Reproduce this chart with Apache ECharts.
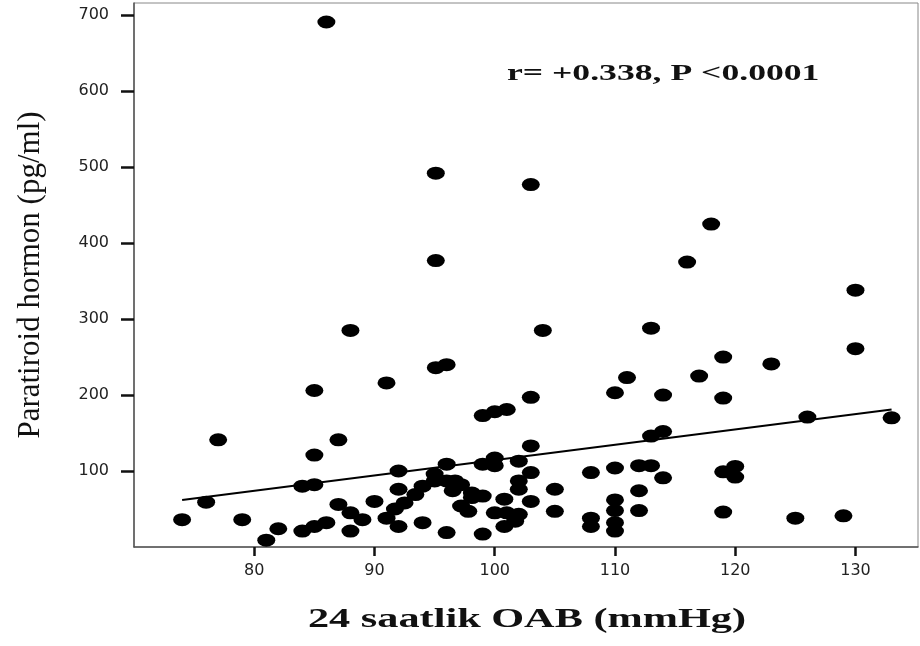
<!DOCTYPE html>
<html>
<head>
<meta charset="utf-8">
<script src="https://cdn.jsdelivr.net/npm/echarts@6/dist/echarts.min.js"></script>
<style>
html, body { margin: 0; padding: 0; background: #fff; }
#chart { width: 920px; height: 646px; }
</style>
</head>
<body>
<div id="chart"></div>
<script>
// 24 saatlik OAB (mmHg) vs paratiroid hormon (pg/ml)
var oab = [74, 76, 77, 79, 81, 82, 84, 84, 85, 85, 85, 85, 86, 86, 87, 87, 88, 88, 88, 89,
	90, 91, 91, 92, 92, 92, 91.7, 92.5, 93.4, 94, 94, 95, 95, 95.1, 96, 95.1, 95.1, 96, 96, 96.7,
	97.2, 96.5, 97.2, 96, 98.1, 98.1, 97.8, 99, 99, 99, 99, 100, 101, 100, 100, 102, 103, 102, 102, 100.8,
	103, 100, 101, 102, 100.8, 101.7, 103, 103, 103, 104, 105, 105, 108, 108, 108, 110, 110, 110, 110, 110,
	110, 111, 112, 113, 112, 112, 113, 114, 114, 114, 113, 116, 117, 118, 119, 119, 119, 120, 120, 119,
	123, 125, 126, 129, 130, 130, 133];
var pth = [36, 59, 141, 36, 9, 24, 21, 80, 82, 27, 121, 206, 32, 691, 141, 56, 45, 21, 285, 36,
	60, 216, 38, 100, 76, 27, 50, 58, 69, 80, 32, 96, 87, 236, 240, 377, 492, 109, 87, 87,
	82, 74, 54, 19, 65, 71, 47, 67, 109, 17, 173, 178, 181, 117, 107, 113, 98, 87, 76, 63,
	60, 45, 45, 43, 27, 34, 133, 197, 477, 285, 76, 47, 98, 38, 27, 104, 203, 62, 48, 32,
	21, 223, 107, 107, 74, 48, 146, 152, 91, 200, 288, 375, 225, 425, 250, 196, 99, 106, 92, 46,
	241, 38, 171, 41, 261, 338, 170];
// regression line end points
var fitX = [74, 133];
var fitY = [62, 181];
var xTicks = [80, 90, 100, 110, 120, 130];
var yTicks = [100, 200, 300, 400, 500, 600, 700];

scatterChart("chart");

function scatterChart(id) {
	var chart = echarts.init(document.getElementById(id));
	var points = oab.map(function (x, i) { return [x, pth[i]]; });
	var fit = fitX.map(function (x, i) { return [x, fitY[i]]; });
	var option = {
		animation: false,
		backgroundColor: '#fff',
		grid: {
			left: 134,
			right: 2,
			top: 3,
			bottom: 99,
			show: true,
			borderColor: '#888',
			borderWidth: 1
		},
		xAxis: {
			type: 'value',
			min: 70,
			max: 135.2,
			splitLine: { show: false },
			axisLine: { lineStyle: { color: '#555', width: 1.5 } },
			axisTick: { customValues: xTicks, length: 9, lineStyle: { color: '#111', width: 2.5 } },
			axisLabel: {
				customValues: xTicks,
				margin: 16,
				color: '#222',
				fontFamily: 'DejaVu Sans',
				fontSize: 16
			}
		},
		yAxis: {
			type: 'value',
			min: 0,
			max: 716,
			splitLine: { show: false },
			axisLine: { lineStyle: { color: '#555', width: 1.5 } },
			axisTick: { customValues: yTicks, length: 13, lineStyle: { color: '#111', width: 2.5 } },
			axisLabel: {
				customValues: yTicks,
				margin: 25,
				color: '#222',
				fontFamily: 'DejaVu Sans',
				fontSize: 16
			},
			name: 'Paratiroid hormon (pg/ml)',
			nameLocation: 'middle',
			nameGap: 88,
			nameTextStyle: {
				fontFamily: 'Liberation Serif',
				fontSize: 31,
				color: '#111'
			}
		},
		// the source picture is stretched sideways, so the titles are widened too
		graphic: [{
			type: 'text',
			x: 527,
			y: 620,
			scaleX: 1.51,
			style: {
				text: '24 saatlik OAB (mmHg)',
				textAlign: 'center',
				textVerticalAlign: 'middle',
				fontFamily: 'Liberation Serif',
				fontWeight: 'bold',
				fontSize: 28,
				fill: '#111'
			}
		}, {
			type: 'text',
			x: 507,
			y: 74,
			scaleX: 1.55,
			style: {
				text: 'r= +0.338, P <0.0001',
				textAlign: 'left',
				textVerticalAlign: 'middle',
				fontFamily: 'Liberation Serif',
				fontWeight: 'bold',
				fontSize: 23,
				fill: '#111'
			}
		}],
		series: [{
			name: 'hasta',
			type: 'scatter',
			symbol: 'circle',
			symbolSize: [18, 13],
			itemStyle: { color: '#000', opacity: 1 },
			data: points,
			z: 3
		}, {
			name: 'fit',
			type: 'line',
			showSymbol: false,
			lineStyle: { color: '#000', width: 2 },
			data: fit,
			z: 2
		}]
	};
	chart.setOption(option);
}
</script>
</body>
</html>
